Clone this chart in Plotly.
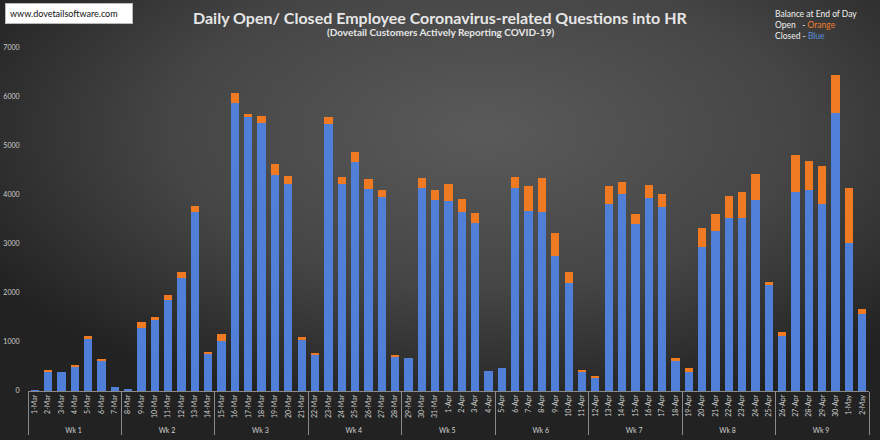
import base64
import plotly.graph_objects as go

# data
weeks = ['Wk 1', 'Wk 2', 'Wk 3', 'Wk 4', 'Wk 5', 'Wk 6', 'Wk 7', 'Wk 8', 'Wk 9']
dates = [
    '1-Mar', '2-Mar', '3-Mar', '4-Mar', '5-Mar', '6-Mar', '7-Mar',
    '8-Mar', '9-Mar', '10-Mar', '11-Mar', '12-Mar', '13-Mar', '14-Mar',
    '15-Mar', '16-Mar', '17-Mar', '18-Mar', '19-Mar', '20-Mar', '21-Mar',
    '22-Mar', '23-Mar', '24-Mar', '25-Mar', '26-Mar', '27-Mar', '28-Mar',
    '29-Mar', '30-Mar', '31-Mar', '1-Apr', '2-Apr', '3-Apr', '4-Apr',
    '5-Apr', '6-Apr', '7-Apr', '8-Apr', '9-Apr', '10-Apr', '11-Apr',
    '12-Apr', '13-Apr', '14-Apr', '15-Apr', '16-Apr', '17-Apr', '18-Apr',
    '19-Apr', '20-Apr', '21-Apr', '22-Apr', '23-Apr', '24-Apr', '25-Apr',
    '26-Apr', '27-Apr', '28-Apr', '29-Apr', '30-Apr', '1-May', '2-May',
]
closed = [
    10, 400, 380, 510, 1080, 620, 90,
    25, 1290, 1450, 1860, 2310, 3660, 760,
    1020, 5870, 5590, 5460, 4400, 4220, 1040,
    740, 5440, 4220, 4670, 4120, 3950, 700,
    680, 4150, 3900, 3880, 3660, 3420, 415,
    470, 4150, 3680, 3660, 2755, 2200, 380,
    260, 3820, 4020, 3415, 3945, 3760, 620,
    395, 2930, 3265, 3540, 3540, 3900, 2180,
    1130, 4055, 4100, 3810, 5670, 3015, 1570,
]
opened = [
    0, 25, 0, 5, 40, 30, 0,
    0, 120, 65, 100, 120, 120, 35,
    140, 205, 65, 150, 240, 175, 60,
    30, 145, 155, 200, 200, 150, 35,
    0, 200, 200, 345, 250, 220, 0,
    0, 220, 510, 690, 460, 225, 55,
    50, 370, 240, 200, 260, 270, 45,
    80, 400, 345, 430, 530, 530, 40,
    80, 760, 590, 780, 770, 1135, 100,
]
y_ticks = [0, 1000, 2000, 3000, 4000, 5000, 6000, 7000]

# week label for every day (7 days per week)
week_of_day = [weeks[i // 7] for i in range(len(dates))]

W, H = 880, 440
ML, MR, MT, MB = 28, 11, 48, 49

# radial gradient background as an svg image
svg = f'''<svg xmlns="http://www.w3.org/2000/svg" width="{W}" height="{H}" preserveAspectRatio="none">
<defs><radialGradient id="g" cx="55%" cy="30%" r="65%">
<stop offset="0%" stop-color="#5a5a5a"/>
<stop offset="55%" stop-color="#454545"/>
<stop offset="100%" stop-color="#222222"/>
</radialGradient></defs>
<rect width="{W}" height="{H}" fill="url(#g)"/></svg>'''
bg_src = 'data:image/svg+xml;base64,' + base64.b64encode(svg.encode()).decode()

pw = W - ML - MR
ph = H - MT - MB

fig = go.Figure()
fig.add_trace(go.Bar(
    x=[week_of_day, dates], y=closed, name='Closed',
    marker=dict(color='#4f7fd6', line=dict(width=0)),
))
fig.add_trace(go.Bar(
    x=[week_of_day, dates], y=opened, name='Open',
    marker=dict(color='#f07a22', line=dict(width=0)),
))

fig.update_layout(
    width=W, height=H,
    barmode='stack', bargap=0.38,
    showlegend=False,
    margin=dict(l=ML, r=MR, t=MT, b=MB, autoexpand=False),
    paper_bgcolor='#333333',
    plot_bgcolor='rgba(0,0,0,0)',
    font=dict(family='Lato, Open Sans, sans-serif', color='#d9d9d9'),
    images=[dict(
        source=bg_src, xref='paper', yref='paper',
        x=-ML / pw, y=1 + MT / ph, sizex=W / pw, sizey=H / ph,
        xanchor='left', yanchor='top', sizing='stretch', layer='below',
    )],
)

fig.update_xaxes(
    type='multicategory', automargin=False,
    tickangle=-90,
    tickfont=dict(size=7, color='#d0d0d0'),
    showline=True, linecolor='#8a8a8a', linewidth=1,
    showdividers=True, dividercolor='#8a8a8a', dividerwidth=1,
    showgrid=False, zeroline=False,
)
fig.update_yaxes(
    range=[0, 7000], tickvals=y_ticks, automargin=False,
    tickfont=dict(size=7, color='#d0d0d0'),
    ticks='outside', ticklen=6, tickcolor='rgba(0,0,0,0)',
    showgrid=False, zeroline=False, showline=False,
)

# title and subtitle
fig.add_annotation(
    text='<b>Daily Open/ Closed Employee Coronavirus-related Questions into HR</b>',
    xref='paper', yref='paper', x=(440 - ML) / pw, y=1 + 30 / ph,
    xanchor='center', yanchor='middle',
    showarrow=False, font=dict(size=16, color='#e6e6e6'),
)
fig.add_annotation(
    text='<b>(Dovetail Customers Actively Reporting COVID-19)</b>',
    xref='paper', yref='paper', x=(440 - ML) / pw, y=1 + 16 / ph,
    xanchor='center', yanchor='middle',
    showarrow=False, font=dict(size=10, color='#e6e6e6'),
)

# website box
fig.add_annotation(
    text='www.dovetailsoftware.com',
    xref='paper', yref='paper', x=(5 - ML) / pw, y=1 + (MT - 3) / ph,
    xanchor='left', yanchor='top', showarrow=False,
    font=dict(size=9, color='#111111'),
    bgcolor='#ffffff', bordercolor='#bbbbbb', borderwidth=1,
    borderpad=4, width=118, align='left',
)

# colour key, top right
fig.add_annotation(
    text=('Balance at End of Day<br>'
          'Open   - <span style="color:#ef7d2c">Orange</span><br>'
          'Closed - <span style="color:#5b8fd8">Blue</span>'),
    xref='paper', yref='paper', x=(773 - ML) / pw, y=1 + (MT - 7) / ph,
    xanchor='left', yanchor='top', align='left', showarrow=False,
    font=dict(size=8.5, color='#f0f0f0'),
)

fig.write_html('out.html', config={'displayModeBar': False},
               post_script="document.body.style.margin='0';")
